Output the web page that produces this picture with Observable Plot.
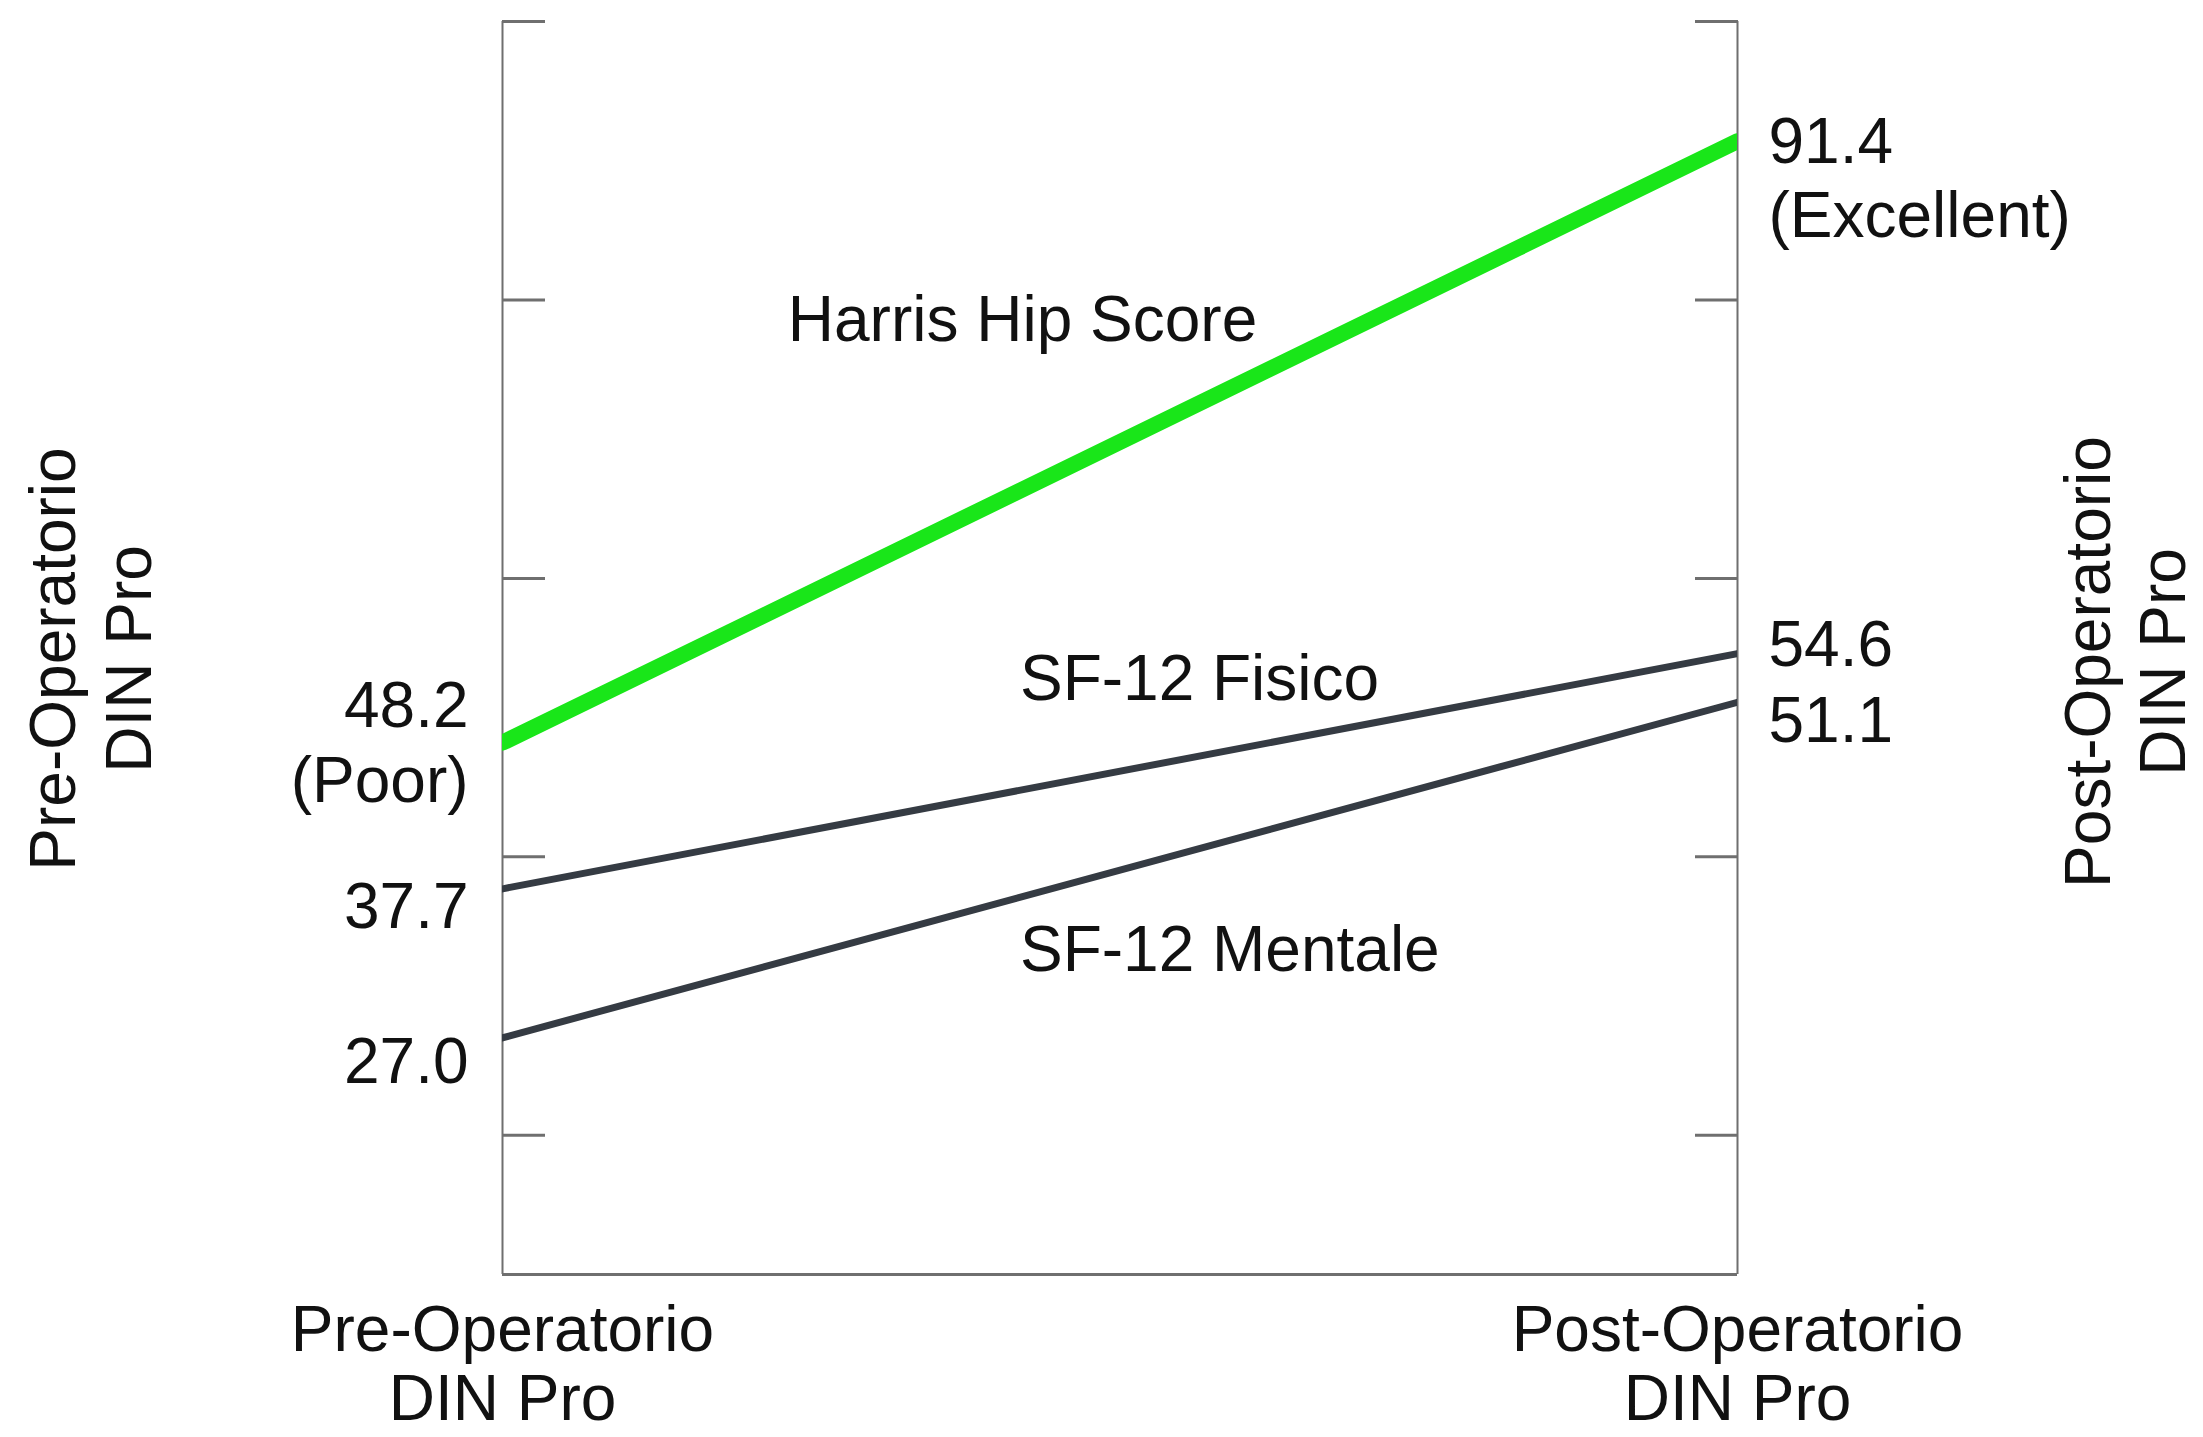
<!DOCTYPE html>
<html>
<head>
<meta charset="utf-8">
<script src="https://cdn.jsdelivr.net/npm/d3@7"></script>
<script src="https://cdn.jsdelivr.net/npm/@observablehq/plot@0.6"></script>
<style>
  html, body { margin: 0; padding: 0; background: #fff; }
  #chart svg { display: block; }
</style>
</head>
<body>
<div id="chart"></div>
<script>
// ---- data ----
const stages = ["Pre-Operatorio\nDIN Pro", "Post-Operatorio\nDIN Pro"];
const series = ["Harris Hip Score", "SF-12 Fisico", "SF-12 Mentale"];
const preValues = [48.2, 37.7, 27.0];
const postValues = [91.4, 54.6, 51.1];
const preRatings = ["Poor", "", ""];
const postRatings = ["Excellent", "", ""];
const yTicks = [20, 40, 60, 80, 100];
const yDomain = [10, 100];

// ---- derived tables ----
const rows = series.flatMap((s, i) => [
  {series: s, stage: 0, value: preValues[i]},
  {series: s, stage: 1, value: postValues[i]}
]);
const fmt = d3.format(".1f");
const endLabel = (v, r) => fmt(v) + (r ? `\n(${r})` : "");
const preLabels = series.map((s, i) => ({series: s, stage: 0, value: preValues[i], text: endLabel(preValues[i], preRatings[i])}));
const postLabels = series.map((s, i) => ({series: s, stage: 1, value: postValues[i], text: endLabel(postValues[i], postRatings[i])}));

// ---- style ----
const W = 2203, H = 1437;
const green = "#19e619", slate = "#353b43", axisGray = "#6f6f6f", ink = "#111111";
const font = "'Liberation Sans', Arial, Helvetica, sans-serif";
const FS = 64;

// label position along each line (fraction t of the way from Pre to Post) plus pixel offset
const nameSpec = [
  {t: 0.231, dy: -283},
  {t: 0.419, dy: -111},
  {t: 0.419, dy: 53}
];
const nameRows = series.map((s, i) => ({
  text: s,
  stage: nameSpec[i].t,
  value: preValues[i] + nameSpec[i].t * (postValues[i] - preValues[i]),
  dy: nameSpec[i].dy
}));

const preDy = [-2, 15, 21];
const postDy = [35, -11, 16];

const marks = [
  // frame: side axes and baseline
  Plot.ruleX([0, 1], {stroke: axisGray, strokeWidth: 2}),
  Plot.ruleY([yDomain[0]], {stroke: axisGray, strokeWidth: 3}),
  // inward ticks on both axes
  Plot.axisY({anchor: "left", ticks: yTicks, tickSize: -43, tickFormat: () => "", label: null, stroke: axisGray, strokeWidth: 3}),
  Plot.axisY({anchor: "right", ticks: yTicks, tickSize: -43, tickFormat: () => "", label: null, stroke: axisGray, strokeWidth: 3}),
  // bottom category labels
  Plot.axisX({ticks: [0, 1], tickFormat: i => stages[i], tickSize: 0, tickPadding: 27, lineHeight: 1.08, fontSize: FS, label: null, fill: ink}),
  // lines
  Plot.line(rows.filter(d => d.series !== series[0]), {x: "stage", y: "value", z: "series", stroke: slate, strokeWidth: 7, clip: true}),
  Plot.line(rows.filter(d => d.series === series[0]), {x: "stage", y: "value", stroke: green, strokeWidth: 16, clip: true}),
  // series names
  ...nameRows.map(d => Plot.text([d], {x: "stage", y: "value", text: "text", dy: d.dy, textAnchor: "start", lineAnchor: "middle", fontSize: FS, fill: ink})),
  // end value labels
  ...preLabels.map((d, i) => Plot.text([d], {x: "stage", y: "value", text: "text", dx: -34, dy: preDy[i], textAnchor: "end", lineAnchor: "middle", lineHeight: 1.17, fontSize: FS, fill: ink})),
  ...postLabels.map((d, i) => Plot.text([d], {x: "stage", y: "value", text: "text", dx: 31, dy: postDy[i], textAnchor: "start", lineAnchor: "middle", lineHeight: 1.15, fontSize: FS, fill: ink})),
  // rotated side titles
  Plot.text([stages[0]], {frameAnchor: "left", text: d => d, rotate: -90, dx: -414, dy: 11, lineAnchor: "middle", textAnchor: "middle", lineHeight: 1.2, fontSize: FS, fill: ink}),
  Plot.text([stages[1]], {frameAnchor: "right", text: d => d, rotate: -90, dx: 386, dy: 14, lineAnchor: "middle", textAnchor: "middle", lineHeight: 1.18, fontSize: FS, fill: ink})
];

const chart = Plot.plot({
  width: W,
  height: H,
  marginLeft: 502,
  marginRight: 466,
  marginTop: 21,
  marginBottom: 163,
  x: {domain: [0, 1]},
  y: {domain: yDomain},
  style: {fontFamily: font, fontSize: FS + "px", color: ink, background: "#fff", overflow: "visible"},
  marks
});
document.getElementById("chart").appendChild(chart);
</script>
</body>
</html>
